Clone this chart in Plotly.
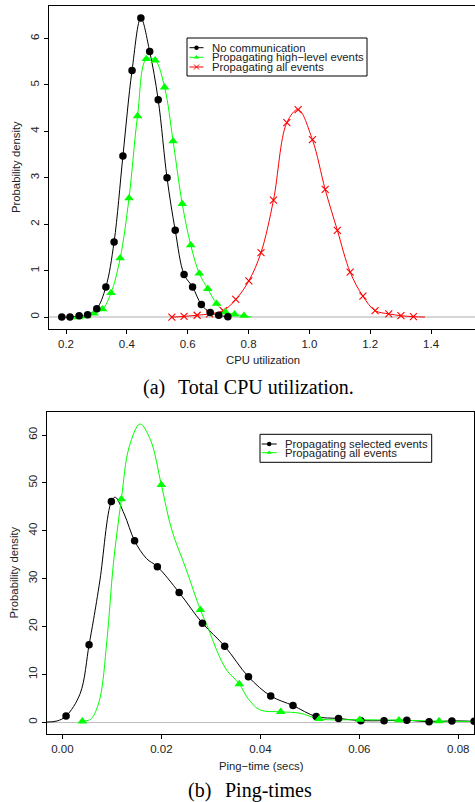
import plotly.graph_objects as go

W, H = 475, 802

# ---------------- Panel (a): CPU utilization ----------------
cpu_none_x = [0.186, 0.213, 0.243, 0.271, 0.301, 0.331, 0.358, 0.387, 0.417, 0.446,
              0.475, 0.503, 0.532, 0.559, 0.588, 0.616, 0.645, 0.674, 0.702, 0.732]
cpu_none_y = [0.0, 0.0, 0.03, 0.05, 0.18, 0.65, 1.62, 3.47, 5.31, 6.44,
              5.72, 4.68, 3.0, 1.87, 0.92, 0.65, 0.27, 0.10, 0.04, 0.01]

cpu_high_x = [0.240, 0.266, 0.292, 0.320, 0.348, 0.378, 0.407, 0.435, 0.464, 0.493,
              0.524, 0.552, 0.582, 0.610, 0.638, 0.666, 0.695, 0.724, 0.754, 0.785]
cpu_high_y = [0.0, 0.02, 0.08, 0.17, 0.52, 1.27, 2.56, 4.33, 5.56, 5.53,
              4.95, 3.79, 2.44, 1.55, 0.94, 0.61, 0.29, 0.11, 0.06, 0.03]
cpu_high_tail_x = [0.215, 0.81]
cpu_high_tail_y = [0.0, 0.0]

cpu_all_x = [0.548, 0.588, 0.631, 0.672, 0.717, 0.758, 0.801, 0.841, 0.882, 0.926,
             0.963, 1.010, 1.052, 1.092, 1.134, 1.176, 1.216, 1.261, 1.301, 1.342]
cpu_all_y = [0.0, 0.015, 0.04, 0.07, 0.14, 0.38, 0.78, 1.39, 2.52, 4.19,
             4.47, 3.82, 2.75, 1.87, 0.97, 0.45, 0.14, 0.07, 0.03, 0.01]
cpu_all_tail_x = [1.38]
cpu_all_tail_y = [0.0]

cpu_xticks = [0.2, 0.4, 0.6, 0.8, 1.0, 1.2, 1.4]
cpu_xtick_text = ["0.2", "0.4", "0.6", "0.8", "1.0", "1.2", "1.4"]
cpu_yticks = [0, 1, 2, 3, 4, 5, 6]

# ---------------- Panel (b): Ping times ----------------
ping_sel_x = [0.00075, 0.0054, 0.0099, 0.0146, 0.0192, 0.0236, 0.0283, 0.0328, 0.0376, 0.0421,
              0.0466, 0.0513, 0.0558, 0.0603, 0.0650, 0.0696, 0.0741, 0.0787, 0.0832]
ping_sel_y = [1.3, 16.2, 46.1, 37.9, 32.5, 27.1, 20.7, 15.9, 9.5, 5.5,
              3.5, 1.2, 0.8, 0.35, 0.35, 0.45, 0.1, 0.3, 0.2]
ping_sel_curve_x = [-0.0032, -0.001, 0.00075, 0.0036, 0.0054, 0.0063, 0.0076, 0.0099, 0.0107,
                    0.0125, 0.0146, 0.0170, 0.0192, 0.0236, 0.0283, 0.0328, 0.0376, 0.0421,
                    0.0466, 0.0513, 0.0558, 0.0603, 0.0650, 0.0696, 0.0741, 0.0787, 0.0832]
ping_sel_curve_y = [0.05, 0.3, 1.3, 6.0, 16.2, 21.4, 29.7, 46.1, 47.0,
                    43.5, 37.9, 34.2, 32.5, 27.1, 20.7, 15.9, 9.5, 5.5,
                    3.5, 1.2, 0.8, 0.35, 0.35, 0.45, 0.1, 0.3, 0.2]

ping_all_x = [0.00404, 0.01192, 0.0200, 0.02788, 0.03576, 0.04412, 0.0519, 0.0601, 0.0680, 0.0761]
ping_all_y = [0.2, 46.6, 49.6, 23.5, 8.0, 2.2, 0.7, 0.55, 0.45, 0.25]
ping_all_curve_x = [0.00404, 0.0055, 0.0062, 0.0076, 0.0090, 0.0103, 0.01192, 0.0135, 0.0157,
                    0.0178, 0.0200, 0.0221, 0.0250, 0.02788, 0.0295, 0.0312, 0.0332, 0.03576,
                    0.0375, 0.0399, 0.04412, 0.0480, 0.0519, 0.0601, 0.0680, 0.0761, 0.0832]
ping_all_curve_y = [0.2, 0.5, 1.2, 5.0, 17.0, 33.0, 46.6, 57.5, 62.3,
                    59.0, 49.6, 40.2, 32.0, 23.5, 19.6, 15.0, 10.9, 8.0,
                    5.0, 2.6, 2.2, 1.9, 0.7, 0.55, 0.45, 0.25, 0.2]

ping_xticks = [0.00, 0.02, 0.04, 0.06, 0.08]
ping_xtick_text = ["0.00", "0.02", "0.04", "0.06", "0.08"]
ping_yticks = [0, 10, 20, 30, 40, 50, 60]

# ---------------- legends / captions ----------------
legend_a_labels = ["No communication", "Propagating high\u2212level events", "Propagating all events"]
legend_b_labels = ["Propagating selected events", "Propagating all events"]
caption_a = ("(a)", "Total CPU utilization.")
caption_b = ("(b)", "Ping-times")

BLACK = "#000000"
GREEN = "#00FF00"
RED = "#FF0000"
SANS = "Liberation Sans, Arial, Helvetica, sans-serif"
SERIF = "Liberation Serif, Times New Roman, serif"
TXT = "#222222"

fig = go.Figure()

# ---- panel a traces ----
fig.add_trace(go.Scatter(x=cpu_none_x, y=cpu_none_y, mode="lines", xaxis="x", yaxis="y",
                         line=dict(color=BLACK, width=1, shape="spline", smoothing=1.0), hoverinfo="skip"))
fig.add_trace(go.Scatter(x=[cpu_high_tail_x[0]] + cpu_high_x + [cpu_high_tail_x[1]],
                         y=[cpu_high_tail_y[0]] + cpu_high_y + [cpu_high_tail_y[1]],
                         mode="lines", xaxis="x", yaxis="y",
                         line=dict(color=GREEN, width=1, shape="spline", smoothing=1.0), hoverinfo="skip"))
fig.add_trace(go.Scatter(x=cpu_all_x + cpu_all_tail_x, y=cpu_all_y + cpu_all_tail_y,
                         mode="lines", xaxis="x", yaxis="y",
                         line=dict(color=RED, width=1, shape="spline", smoothing=1.0), hoverinfo="skip"))
fig.add_trace(go.Scatter(x=cpu_all_x, y=cpu_all_y, mode="markers", xaxis="x", yaxis="y",
                         marker=dict(symbol="x-thin", size=7, line=dict(color=RED, width=1.1))))
fig.add_trace(go.Scatter(x=cpu_high_x, y=cpu_high_y, mode="markers", xaxis="x", yaxis="y",
                         marker=dict(symbol="triangle-up", size=8.5, color=GREEN)))
fig.add_trace(go.Scatter(x=cpu_none_x, y=cpu_none_y, mode="markers", xaxis="x", yaxis="y",
                         marker=dict(symbol="circle", size=7.5, color=BLACK)))

# ---- panel b traces ----
fig.add_trace(go.Scatter(x=ping_sel_curve_x, y=ping_sel_curve_y, mode="lines", xaxis="x2", yaxis="y2",
                         line=dict(color=BLACK, width=1, shape="spline", smoothing=1.0), hoverinfo="skip"))
fig.add_trace(go.Scatter(x=ping_all_curve_x, y=ping_all_curve_y, mode="lines", xaxis="x2", yaxis="y2",
                         line=dict(color=GREEN, width=1, shape="spline", smoothing=1.0), hoverinfo="skip"))
fig.add_trace(go.Scatter(x=ping_sel_x, y=ping_sel_y, mode="markers", xaxis="x2", yaxis="y2",
                         marker=dict(symbol="circle", size=7.5, color=BLACK)))
fig.add_trace(go.Scatter(x=ping_all_x, y=ping_all_y, mode="markers", xaxis="x2", yaxis="y2",
                         marker=dict(symbol="triangle-up", size=8.5, color=GREEN)))

# ---- pixel overlay for legends / labels ----
def px_trace(xs, ys, **kw):
    fig.add_trace(go.Scatter(x=xs, y=ys, xaxis="x3", yaxis="y3", hoverinfo="skip", **kw))

shapes = []
annotations = []

# legend a
la_left, la_right, la_top, la_bot = 187, 367, 38, 76
shapes.append(dict(type="rect", xref="x3", yref="y3", x0=la_left, x1=la_right, y0=la_top, y1=la_bot,
                   line=dict(color=BLACK, width=1), fillcolor="white", layer="below"))
la_rows = [47.7, 57.3, 67.0]
la_cols = [BLACK, GREEN, RED]
la_syms = ["circle", "triangle-up", "x-thin"]
for lab, yy, col, sym in zip(legend_a_labels, la_rows, la_cols, la_syms):
    px_trace([189.5, 203.5], [yy, yy], mode="lines", line=dict(color=col, width=1))
    if sym == "x-thin":
        px_trace([196.5], [yy], mode="markers", marker=dict(symbol=sym, size=5, line=dict(color=col, width=1)))
    else:
        px_trace([196.5], [yy], mode="markers", marker=dict(symbol=sym, size=4.5, color=col))
    annotations.append(dict(xref="x3", yref="y3", x=209.5, y=yy, text=lab, showarrow=False,
                            xanchor="left", yanchor="middle", font=dict(family=SANS, size=11.3, color=TXT)))

# legend b
lb_left, lb_right, lb_top, lb_bot = 260, 431.7, 434.3, 462.3
shapes.append(dict(type="rect", xref="x3", yref="y3", x0=lb_left, x1=lb_right, y0=lb_top, y1=lb_bot,
                   line=dict(color=BLACK, width=1), fillcolor="white", layer="below"))
lb_rows = [444.0, 452.7]
lb_cols = [BLACK, GREEN]
lb_syms = ["circle", "triangle-up"]
for lab, yy, col, sym in zip(legend_b_labels, lb_rows, lb_cols, lb_syms):
    px_trace([261.7, 276.7], [yy, yy], mode="lines", line=dict(color=col, width=1))
    px_trace([269.2], [yy], mode="markers", marker=dict(symbol=sym, size=4.5, color=col))
    annotations.append(dict(xref="x3", yref="y3", x=282.8, y=yy, text=lab, showarrow=False,
                            xanchor="left", yanchor="middle", font=dict(family=SANS, size=11.3, color=TXT)))

cap_font = dict(family=SERIF, size=20, color="#000")
# axis titles and captions
annotations += [
    dict(xref="x3", yref="y3", x=16, y=167, text="Probability density", textangle=-90, showarrow=False,
         xanchor="center", yanchor="middle", font=dict(family=SANS, size=11.3, color=TXT)),
    dict(xref="x3", yref="y3", x=263, y=360, text="CPU utilization", showarrow=False,
         xanchor="center", yanchor="middle", font=dict(family=SANS, size=11.3, color=TXT)),
    dict(xref="x3", yref="y3", x=154, y=387, text=caption_a[0], showarrow=False,
         xanchor="center", yanchor="middle", font=cap_font),
    dict(xref="x3", yref="y3", x=176, y=387, text=caption_a[1], showarrow=False,
         xanchor="left", yanchor="middle", font=cap_font),
    dict(xref="x3", yref="y3", x=13.5, y=573, text="Probability density", textangle=-90, showarrow=False,
         xanchor="center", yanchor="middle", font=dict(family=SANS, size=11.3, color=TXT)),
    dict(xref="x3", yref="y3", x=261, y=765.7, text="Ping\u2212time (secs)", showarrow=False,
         xanchor="center", yanchor="middle", font=dict(family=SANS, size=11.3, color=TXT)),
    dict(xref="x3", yref="y3", x=199.5, y=790.5, text=caption_b[0], showarrow=False,
         xanchor="center", yanchor="middle", font=cap_font),
    dict(xref="x3", yref="y3", x=222.5, y=790.5, text=caption_b[1], showarrow=False,
         xanchor="left", yanchor="middle", font=cap_font),
]

def xd(px):
    return px / W

def yd(py):
    return 1 - py / H

tickfont = dict(family=SANS, size=11.5, color=TXT)
common_axis = dict(showgrid=False, ticks="outside", ticklen=4, tickwidth=1, tickcolor=BLACK,
                   showline=True, linecolor=BLACK, linewidth=1, tickfont=tickfont, fixedrange=True)

fig.update_layout(
    width=W, height=H, margin=dict(l=0, r=0, t=0, b=0),
    paper_bgcolor="white", plot_bgcolor="rgba(0,0,0,0)", showlegend=False,
    xaxis=dict(domain=[xd(49), 1.0], anchor="y", range=[0.144, 1.5445], tickvals=cpu_xticks,
               ticktext=cpu_xtick_text, zeroline=False, mirror=True, **common_axis),
    yaxis=dict(domain=[yd(329), yd(6)], anchor="x", range=[-0.256, 6.70], tickvals=cpu_yticks,
               tickangle=-90, zeroline=True, zerolinecolor="#D6D6D6", zerolinewidth=2.5, mirror=False,
               **common_axis),
    xaxis2=dict(domain=[xd(46.7), xd(474.3)], anchor="y2", range=[-0.00316, 0.08323], tickvals=ping_xticks,
                ticktext=ping_xtick_text, zeroline=False, mirror=True, **common_axis),
    yaxis2=dict(domain=[yd(734), yd(412.3)], anchor="x2", range=[-2.44, 64.74], tickvals=ping_yticks,
                tickangle=-90, zeroline=True, zerolinecolor="#BDBDBD", zerolinewidth=1, mirror=True,
                **common_axis),
    xaxis3=dict(domain=[0, 1], anchor="y3", range=[0, W], visible=False, fixedrange=True),
    yaxis3=dict(domain=[0, 1], anchor="x3", range=[H, 0], visible=False, fixedrange=True),
    shapes=shapes, annotations=annotations,
)

fig.write_html("out.html", config={"displayModeBar": False, "staticPlot": True},
               post_script="document.body.style.margin='0';document.body.style.overflow='hidden';")
